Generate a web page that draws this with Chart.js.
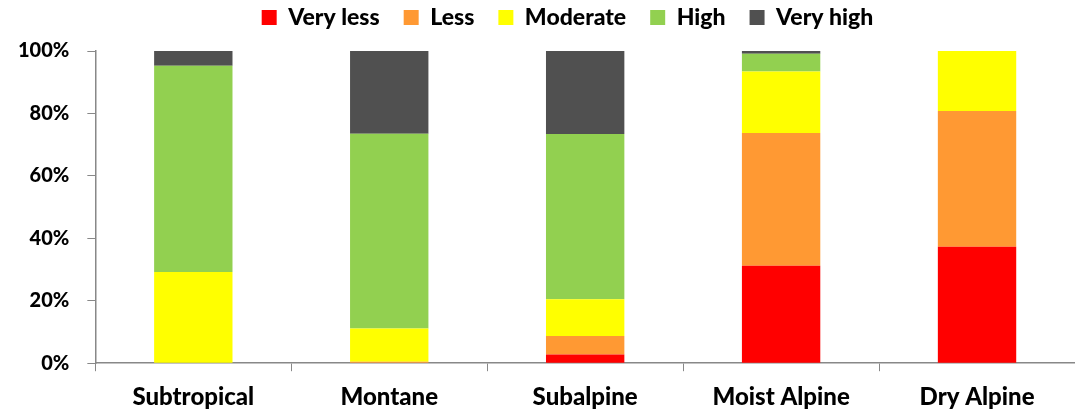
<!DOCTYPE html>
<html>
<head>
<meta charset="utf-8">
<script src="https://cdn.jsdelivr.net/npm/chart.js@4"></script>
<style>
  html, body { margin: 0; padding: 0; background: #fff; }
  #wrap { width: 1075px; height: 415px; }
</style>
</head>
<body>
<div id="wrap"><canvas id="zoneChart"></canvas></div>
<script>
// Categories and series values (percent of each zone)
var zones = ['Subtropical', 'Montane', 'Subalpine', 'Moist Alpine', 'Dry Alpine'];
var veryLess = [0, 0, 2.8, 31.2, 37.3];
var less = [0, 0.5, 5.9, 42.5, 43.5];
var moderate = [29.2, 10.6, 11.8, 19.7, 19.2];
var high = [66.1, 62.4, 52.9, 5.7, 0];
var veryHigh = [4.7, 26.5, 26.6, 0.9, 0];
var yTicks = [0, 20, 40, 60, 80, 100];

var fontFamily = 'Lato, "Open Sans", sans-serif';

// keep the legend box 51px tall, then move it up and right a little
var legendPlace = {
    id: 'legendPlace',
    beforeLayout: function(chart) {
        var lg = chart.legend;
        if (lg && !lg._fitWrapped) {
            var origFit = lg.fit;
            lg.fit = function() {
                origFit.call(this);
                this.height = 51;
            };
            lg._fitWrapped = true;
        }
    },
    afterLayout: function(chart) {
        var lg = chart.legend;
        lg.top = -18;
        lg.bottom = lg.top + 60;
        lg.left += 30;
        lg.right += 30;
    }
};

document.addEventListener('DOMContentLoaded', function() {
    var ctx = document.getElementById('zoneChart').getContext('2d');
    var zoneChart = new Chart(ctx, {
        type: 'bar',
        data: {
            labels: zones,
            datasets: [
                { label: 'Very less', data: veryLess, backgroundColor: '#ff0000' },
                { label: 'Less', data: less, backgroundColor: '#ff9933' },
                { label: 'Moderate', data: moderate, backgroundColor: '#ffff00' },
                { label: 'High', data: high, backgroundColor: '#92d050' },
                { label: 'Very high', data: veryHigh, backgroundColor: '#505050' }
            ]
        },
        plugins: [legendPlace],
        options: {
            responsive: true,
            maintainAspectRatio: false,
            animation: false,
            layout: { padding: { left: 0, right: 0, top: 0, bottom: -9 } },
            datasets: {
                bar: { categoryPercentage: 1.0, barPercentage: 0.4 }
            },
            plugins: {
                legend: {
                    position: 'top',
                    labels: {
                        boxWidth: 15,
                        boxHeight: 15,
                        padding: 24,
                        color: '#000',
                        font: { family: fontFamily, size: 23, weight: '900' }
                    }
                },
                tooltip: { enabled: false }
            },
            scales: {
                x: {
                    stacked: true,
                    grid: {
                        offset: true,
                        drawOnChartArea: false,
                        color: '#888',
                        tickLength: 8
                    },
                    border: { color: '#888', width: 1.5 },
                    ticks: {
                        color: '#000',
                        padding: 12,
                        font: { family: fontFamily, size: 24, weight: '900' }
                    }
                },
                y: {
                    stacked: true,
                    min: 0,
                    max: 100,
                    afterBuildTicks: function(axis) {
                        axis.ticks = yTicks.map(function(v) { return { value: v }; });
                    },
                    grid: {
                        drawOnChartArea: false,
                        color: '#888',
                        tickLength: 8
                    },
                    border: { color: '#888', width: 1.5 },
                    ticks: {
                        color: '#000',
                        padding: 18,
                        font: { family: fontFamily, size: 20, weight: '900' },
                        callback: function(v) { return v + '%'; }
                    }
                }
            }
        }
    });
});
</script>
</body>
</html>
